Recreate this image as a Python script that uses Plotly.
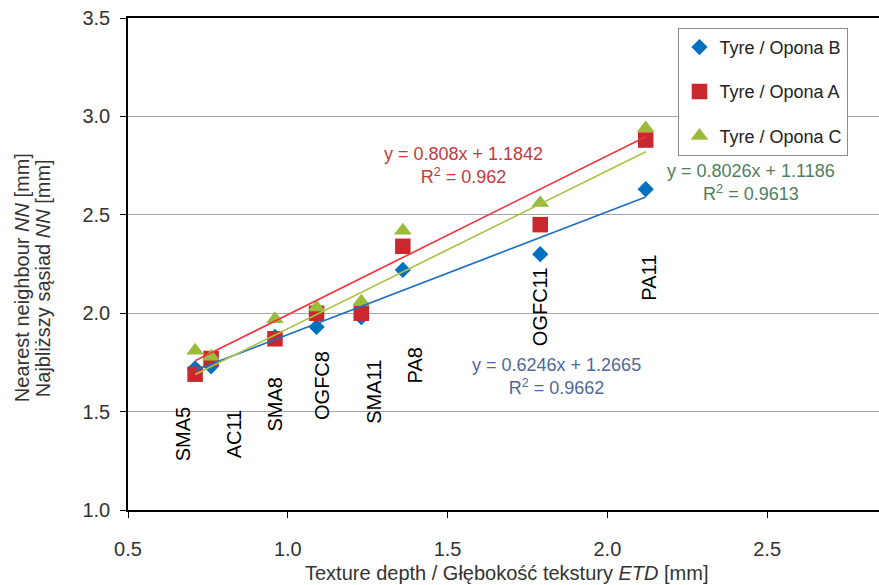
import plotly.graph_objects as go

# ---- data ----
etd = [0.71, 0.76, 0.96, 1.09, 1.23, 1.36, 1.79, 2.12]
surfaces = ["SMA5", "AC11", "SMA8", "OGFC8", "SMA11", "PA8", "OGFC11", "PA11"]
nn_tyre_b = [1.72, 1.73, 1.88, 1.93, 1.98, 2.22, 2.30, 2.63]
nn_tyre_a = [1.69, 1.77, 1.87, 2.00, 2.00, 2.34, 2.45, 2.88]
nn_tyre_c = [1.81, 1.78, 1.97, 2.03, 2.06, 2.42, 2.56, 2.94]

fit_b = (0.6246, 1.2665, 0.9662)
fit_a = (0.808, 1.1842, 0.962)
fit_c = (0.8026, 1.1186, 0.9613)

x_ticks = [0.5, 1.0, 1.5, 2.0, 2.5]
y_ticks = [1.0, 1.5, 2.0, 2.5, 3.0, 3.5]

# ---- label placement (layout only) ----
label_y = [1.385, 1.385, 1.536, 1.633, 1.602, 1.734, 2.032, 2.179]
label_xshift = [-12, 23, 0, 6, 12, 12, 0, 3]

FONT = "Liberation Sans, Arial, sans-serif"

col_b, col_a, col_c = "#0070C0", "#C8282E", "#9BBB3B"
line_b, line_a, line_c = "#1F6EC0", "#EC3A40", "#A9C44A"

fig = go.Figure()

fig.add_trace(go.Scatter(x=etd, y=nn_tyre_b, mode="markers", name="Tyre / Opona B",
                         legendgroup="b",
                         marker=dict(symbol="diamond", size=12.5, color=col_b)))
fig.add_trace(go.Scatter(x=etd, y=nn_tyre_a, mode="markers", name="Tyre / Opona A",
                         legendgroup="a",
                         marker=dict(symbol="square", size=15.5, color=col_a)))
fig.add_trace(go.Scatter(x=etd, y=nn_tyre_c, mode="markers", name="Tyre / Opona C",
                         legendgroup="c",
                         marker=dict(symbol="triangle-up", size=15.5, color=col_c)))

xs = [min(etd), max(etd)]
for (k, b, r2), c in [(fit_b, line_b), (fit_a, line_a), (fit_c, line_c)]:
    fig.add_trace(go.Scatter(x=xs, y=[k * v + b for v in xs], mode="lines",
                             line=dict(color=c, width=1.7), showlegend=False,
                             hoverinfo="skip"))

annotations = []
for name, x, y, dx in zip(surfaces, etd, label_y, label_xshift):
    annotations.append(dict(x=x, y=y, text=name, showarrow=False, textangle=-90,
                            xshift=dx, xanchor="center", yanchor="middle",
                            font=dict(family=FONT, size=20, color="#000000")))

eqs = [
    (fit_a, 1.549, 2.753, "#C23B3C"),
    (fit_c, 2.450, 2.666, "#4D7F5E"),
    (fit_b, 1.840, 1.676, "#4F6897"),
]
for (k, b, r2), ex, ey, ec in eqs:
    annotations.append(dict(x=ex, y=ey,
                            text=f"y = {k}x + {b}<br>R<sup>2</sup> = {r2}",
                            showarrow=False, align="center",
                            xanchor="center", yanchor="middle",
                            font=dict(family=FONT, size=18, color=ec)))

# axis titles
annotations.append(dict(xref="paper", yref="paper", x=-0.141, y=0.4715,
                        text="Nearest neighbour <i>NN</i> [mm]", showarrow=False,
                        textangle=-90, xanchor="center", yanchor="middle",
                        font=dict(family=FONT, size=20, color="#333333")))
annotations.append(dict(xref="paper", yref="paper", x=-0.113, y=0.4715,
                        text="Najbliższy sąsiad <i>NN</i> [mm]", showarrow=False,
                        textangle=-90, xanchor="center", yanchor="middle",
                        font=dict(family=FONT, size=20, color="#333333")))
annotations.append(dict(xref="paper", yref="paper", x=0.505, y=-0.128,
                        text="Texture depth / Głębokość tekstury <i>ETD</i> [mm]",
                        showarrow=False, xanchor="center", yanchor="middle",
                        font=dict(family=FONT, size=20, color="#333333")))

fig.update_layout(
    width=879, height=585,
    margin=dict(l=128, r=0, t=18, b=75),
    paper_bgcolor="white", plot_bgcolor="white",
    font=dict(family=FONT, size=20, color="#333333"),
    annotations=annotations,
    showlegend=True,
    legend=dict(x=0.733, y=0.98, xanchor="left", yanchor="top",
                bgcolor="white", bordercolor="#8C8C8C", borderwidth=1,
                font=dict(family=FONT, size=18, color="#222222"),
                traceorder="grouped", tracegroupgap=18),
)
fig.update_xaxes(range=[0.5, 2.85], tickvals=x_ticks,
                 ticktext=[f"{v:.1f}" for v in x_ticks],
                 showgrid=False, zeroline=False,
                 showline=True, linecolor="#000000", linewidth=1.5, mirror=True,
                 ticks="outside", ticklen=6, tickcolor="#000000", tickwidth=1.2,
                 ticklabelstandoff=14,
                 tickfont=dict(family=FONT, size=20, color="#333333"))
fig.update_yaxes(range=[1.0, 3.5], tickvals=y_ticks,
                 ticktext=[f"{v:.1f}" for v in y_ticks],
                 showgrid=True, gridcolor="#A6A6A6", gridwidth=1, zeroline=False,
                 showline=True, linecolor="#000000", linewidth=1.5,
                 ticks="outside", ticklen=6, tickcolor="#000000", tickwidth=1.2,
                 ticklabelstandoff=6,
                 tickfont=dict(family=FONT, size=20, color="#333333"))

fig.write_html("out.html")
